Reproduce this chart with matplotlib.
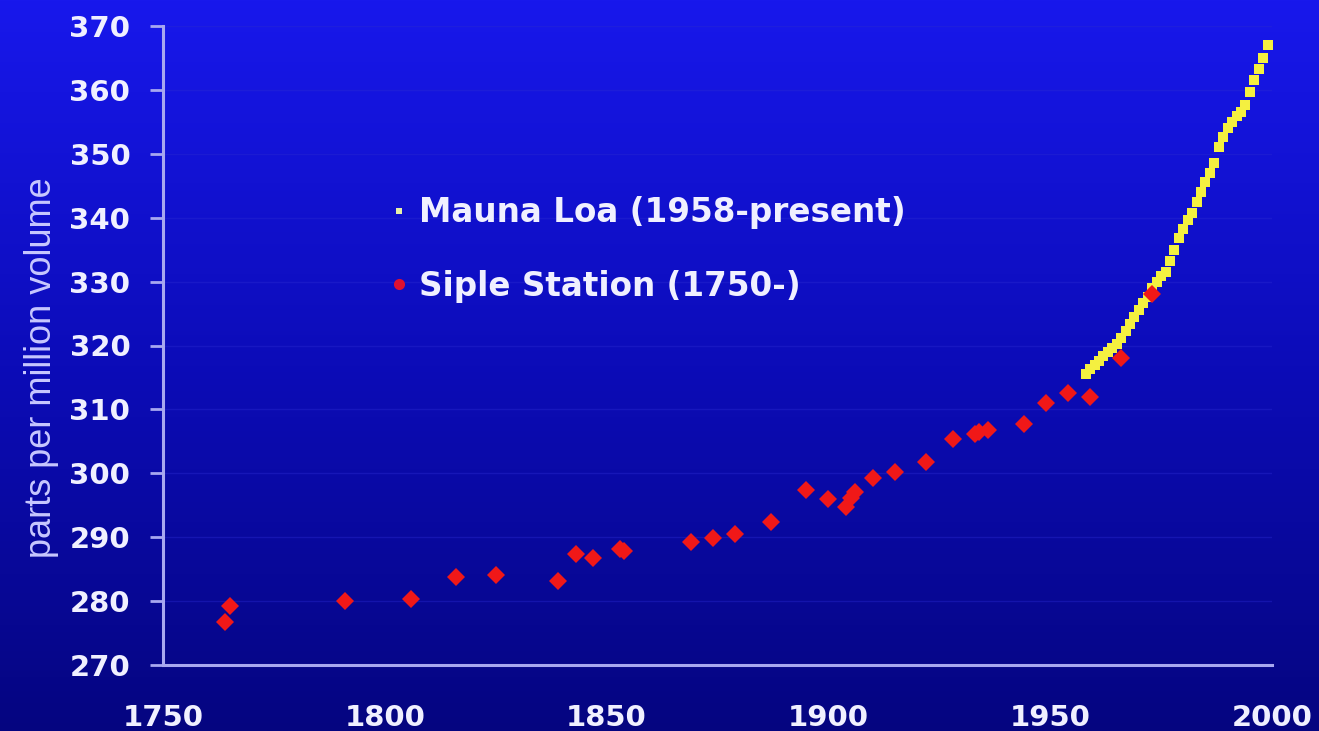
import numpy as np
import matplotlib
matplotlib.use("Agg")
import matplotlib.pyplot as plt
from matplotlib.lines import Line2D
from matplotlib.colors import LinearSegmentedColormap

# ---- data ----
siple_years = [1764, 1765, 1791, 1806, 1816, 1825, 1839, 1843, 1847, 1853, 1854,
               1869, 1874, 1879, 1887, 1895, 1900, 1904, 1905, 1906, 1910, 1915,
               1922, 1928, 1933, 1934, 1936, 1944, 1949, 1954, 1959, 1966, 1973]
siple_ppm = [276.8, 279.2, 280.0, 280.3, 283.8, 284.1, 283.2, 287.4, 286.7, 288.2, 287.9,
             289.3, 289.8, 290.5, 292.4, 297.4, 295.9, 294.8, 296.1, 297.1, 299.2, 300.2,
             301.7, 305.3, 306.2, 306.5, 306.8, 307.7, 311.0, 312.6, 311.9, 318.0, 328.0]

mauna_years = list(range(1958, 2000))
mauna_ppm = [315.6, 316.3, 317.0, 317.6, 318.3, 319.0, 319.6, 320.2, 321.2, 322.2,
             323.3, 324.5, 325.6, 326.6, 327.6, 329.0, 330.0, 330.8, 331.5, 333.2,
             335.0, 336.8, 338.3, 339.6, 340.8, 342.4, 344.0, 345.6, 347.0, 348.6,
             351.0, 352.6, 354.0, 355.0, 355.9, 356.6, 357.6, 359.6, 361.6, 363.2,
             365.0, 367.0]

x_ticks = [1750, 1800, 1850, 1900, 1950, 2000]
y_ticks = [270, 280, 290, 300, 310, 320, 330, 340, 350, 360, 370]
mauna_label = "Mauna Loa (1958-present)"
siple_label = "Siple Station (1750-)"
y_label = "parts per million volume"

W, H = 1319, 731
fig = plt.figure(figsize=(W / 100, H / 100), dpi=100)

# background gradient
bg = fig.add_axes([0, 0, 1, 1], zorder=-10)
cmap = LinearSegmentedColormap.from_list("bg", ["#1818ec", "#0c0cb8", "#050580"])
grad = np.linspace(0, 1, 256).reshape(-1, 1)
bg.imshow(grad, aspect="auto", cmap=cmap, extent=[0, 1, 0, 1], origin="upper")
bg.set_axis_off()

ax = fig.add_axes([163 / W, 1 - 665 / H, (1272 - 163) / W, (665 - 26) / H])
ax.set_facecolor("none")
axis_col = "#a8a8f0"
text_col = "#f0f0ff"

ax.set_xlim(1750, 2000)
ax.set_ylim(270, 370)
ax.set_xticks(x_ticks)
ax.set_yticks(y_ticks)
ax.set_xticklabels([str(v) for v in x_ticks])
ax.set_yticklabels([str(v) for v in y_ticks])

for s in ["top", "right"]:
    ax.spines[s].set_visible(False)
for s in ["left", "bottom"]:
    ax.spines[s].set_color(axis_col)
    ax.spines[s].set_linewidth(2.2)

ax.grid(axis="y", color="#2a2ad0", linewidth=1.0, alpha=0.4)
ax.set_axisbelow(True)

ax.tick_params(axis="y", length=9.5, width=2, color=axis_col, pad=14,
               labelsize=21, labelcolor=text_col)
ax.tick_params(axis="x", length=0, pad=28, labelsize=21, labelcolor=text_col)
for lab in ax.get_xticklabels() + ax.get_yticklabels():
    lab.set_fontweight("bold")
    lab.set_family("DejaVu Sans")

ax.plot(mauna_years, mauna_ppm, linestyle="none", marker="s", markersize=6.8,
        color="#f4f040", markeredgewidth=0, zorder=3)
ax.plot(siple_years, siple_ppm, linestyle="none", marker="D", markersize=9,
        color="#f01818", markeredgewidth=0, zorder=4)

fig.text(42 / W, 1 - 368 / H, y_label, rotation=90, ha="center", va="center",
         color="#c8c8ff", fontsize=26, family="Liberation Sans")

handles = [
    Line2D([], [], linestyle="none", marker="s", markersize=5, color="#e8f0a8",
           markeredgewidth=0),
    Line2D([], [], linestyle="none", marker="o", markersize=8, color="#e01030",
           markeredgewidth=0),
]
leg = ax.legend(handles, [mauna_label, siple_label], loc="upper left",
                bbox_to_anchor=(393 / W, 1 - 196 / H), bbox_transform=fig.transFigure,
                frameon=False, handlelength=0.35, handletextpad=0.45,
                labelspacing=1.25, borderaxespad=0, borderpad=0,
                prop={"family": "DejaVu Sans", "weight": "bold", "size": 23.5})
for t in leg.get_texts():
    t.set_color(text_col)

fig.savefig("out.png", dpi=100)
